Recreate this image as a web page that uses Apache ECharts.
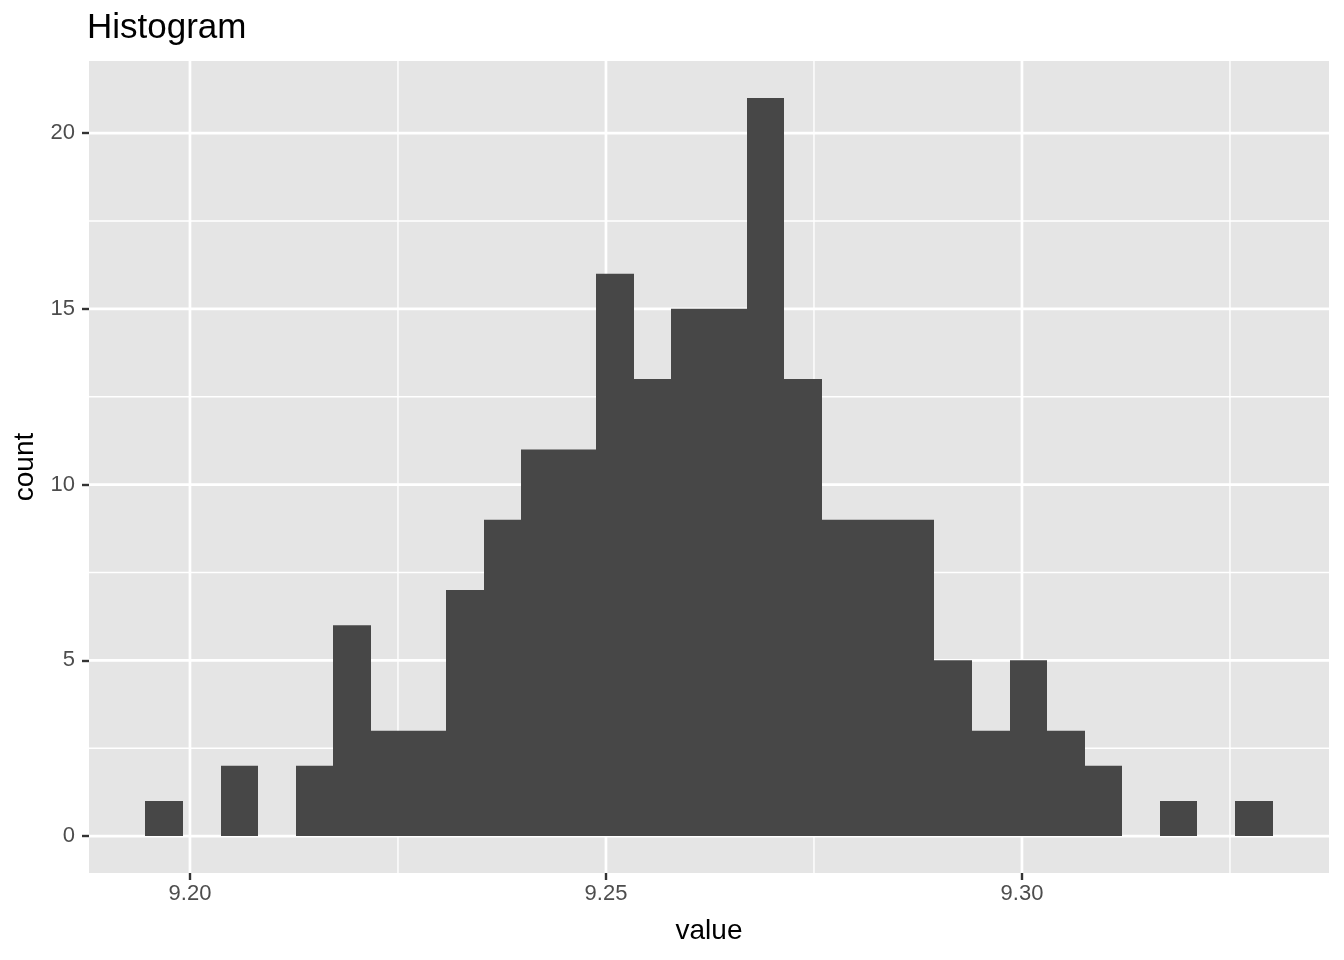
<!DOCTYPE html>
<html>
<head>
<meta charset="utf-8">
<script src="https://cdn.jsdelivr.net/npm/echarts@6/dist/echarts.min.js"></script>
<style>
  html, body { margin: 0; padding: 0; background: #ffffff; }
  #chart { width: 1344px; height: 960px; }
</style>
</head>
<body>
<div id="chart"></div>
<script>
// ---- data ----
const binStart = 9.19464;      // left edge of first bin
const binWidth = 0.0045163;    // bin width (30 bins)
const counts = [1, 0, 2, 0, 2, 6, 3, 3, 7, 9, 11, 11, 16, 13, 15, 15, 21, 13, 9, 9, 9, 5, 3, 5, 3, 2, 0, 1, 0, 1];
const xTicks = [9.20, 9.25, 9.30];
const xMinor = [9.225, 9.275, 9.325];
const yTicks = [0, 5, 10, 15, 20];
const yMinor = [2.5, 7.5, 12.5, 17.5];
const titleText = 'Histogram';
const xName = 'value';
const yName = 'count';

// ---- build ----
const FONT = '"Liberation Sans", Arial, Helvetica, sans-serif';
const nBins = counts.length;
const dataRange = nBins * binWidth;
const xMin = binStart - 0.05 * dataRange;
const xMax = binStart + dataRange + 0.05 * dataRange;
const yMaxCount = Math.max.apply(null, counts);
const yMin = -0.05 * yMaxCount;
const yMax = yMaxCount * 1.05;

const bins = counts.map((c, i) => [binStart + i * binWidth, binStart + (i + 1) * binWidth, c]);

// [orientation (0 = vertical line at x, 1 = horizontal line at y), value, width]
const gridLines = [];
xMinor.forEach(v => gridLines.push([0, v, 1.4]));
yMinor.forEach(v => gridLines.push([1, v, 1.4]));
xTicks.forEach(v => gridLines.push([0, v, 2.7]));
yTicks.forEach(v => gridLines.push([1, v, 2.7]));

const chart = echarts.init(document.getElementById('chart'), null, { renderer: 'canvas' });

chart.setOption({
  animation: false,
  backgroundColor: '#ffffff',
  title: {
    text: titleText,
    left: 87,
    top: 11,
    padding: 0,
    textStyle: { fontFamily: FONT, fontSize: 35, fontWeight: 'normal', color: '#000000' }
  },
  grid: {
    left: 89, right: 15, top: 61, bottom: 87,
    show: true, backgroundColor: '#E5E5E5', borderWidth: 0
  },
  xAxis: {
    type: 'value',
    min: xMin, max: xMax,
    name: xName,
    nameLocation: 'middle',
    nameGap: 44,
    nameTextStyle: { fontFamily: FONT, fontSize: 28, color: '#000000' },
    axisLine: { show: false, onZero: false },
    splitLine: { show: false },
    axisTick: { show: true, length: 7, customValues: xTicks, lineStyle: { color: '#333333', width: 2.4 } },
    axisLabel: {
      customValues: xTicks,
      margin: 10,
      fontFamily: FONT, fontSize: 22, color: '#4D4D4D',
      formatter: v => v.toFixed(2)
    }
  },
  yAxis: {
    type: 'value',
    min: yMin, max: yMax,
    name: yName,
    nameLocation: 'middle',
    nameGap: 48,
    nameTextStyle: { fontFamily: FONT, fontSize: 28, color: '#000000' },
    axisLine: { show: false, onZero: false },
    splitLine: { show: false },
    axisTick: { show: true, length: 7, customValues: yTicks, lineStyle: { color: '#333333', width: 2.4 } },
    axisLabel: {
      customValues: yTicks,
      margin: 14,
      fontFamily: FONT, fontSize: 22, color: '#4D4D4D',
      formatter: v => String(v)
    }
  },
  series: [
    {
      type: 'custom',
      silent: true,
      z: 1,
      data: gridLines,
      encode: { x: 1 },
      renderItem: function (params, api) {
        const cs = params.coordSys;
        const kind = api.value(0);
        const v = api.value(1);
        const w = api.value(2);
        let shape;
        if (kind === 0) {
          const p = api.coord([v, 0]);
          shape = { x1: p[0], y1: cs.y, x2: p[0], y2: cs.y + cs.height };
        } else {
          const p = api.coord([xMin, v]);
          shape = { x1: cs.x, y1: p[1], x2: cs.x + cs.width, y2: p[1] };
        }
        return { type: 'line', shape: shape, style: { stroke: '#FFFFFF', lineWidth: w } };
      }
    },
    {
      type: 'custom',
      silent: true,
      z: 2,
      data: bins,
      encode: { x: [0, 1], y: 2 },
      renderItem: function (params, api) {
        const p0 = api.coord([api.value(0), api.value(2)]);
        const p1 = api.coord([api.value(1), 0]);
        const x0 = Math.round(p0[0]);
        const x1 = Math.round(p1[0]);
        return {
          type: 'rect',
          shape: { x: x0, y: p0[1], width: x1 - x0, height: p1[1] - p0[1] },
          style: { fill: '#474747' }
        };
      }
    }
  ]
});
</script>
</body>
</html>
